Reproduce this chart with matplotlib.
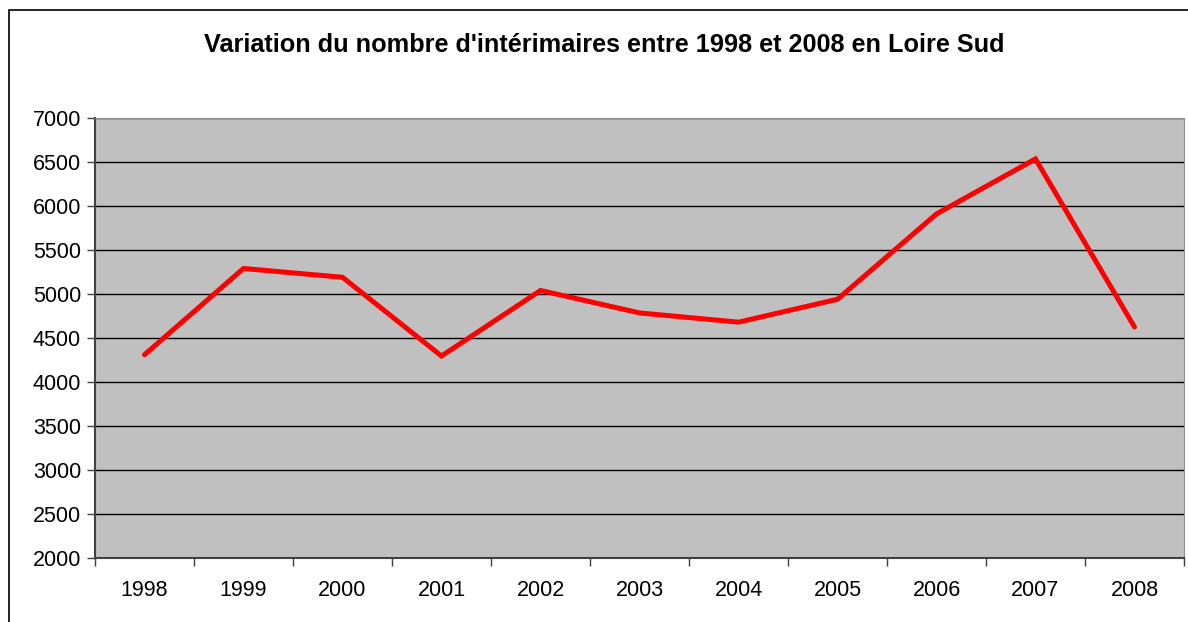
import matplotlib
matplotlib.use("Agg")
import matplotlib.pyplot as plt
from matplotlib.patches import Rectangle

years = ["1998", "1999", "2000", "2001", "2002", "2003", "2004", "2005", "2006", "2007", "2008"]
interimaires = [4310, 5290, 5190, 4295, 5040, 4785, 4680, 4940, 5910, 6535, 4625]

plt.rcParams["font.family"] = ["Liberation Sans", "DejaVu Sans"]

fig = plt.figure(figsize=(11.88, 6.22), dpi=100)
fig.patches.append(Rectangle((9 / 1188, -0.1), 1.2, 1 - 10 / 622 + 0.1,
                             transform=fig.transFigure, fill=False,
                             edgecolor="black", linewidth=1.2))

ax = fig.add_axes([95 / 1188, 1 - 558 / 622, (1184 - 95) / 1188, (558 - 118) / 622])
ax.set_facecolor("#c0c0c0")

x = list(range(len(years)))
ax.plot(x, interimaires, color="#ff0000", linewidth=3.6,
        solid_joinstyle="miter", solid_capstyle="round")

ax.set_xlim(-0.5, len(years) - 0.5)
ax.set_ylim(2000, 7000)
ax.set_yticks(range(2000, 7001, 500))
ax.yaxis.grid(True, color="black", linewidth=1)
ax.set_axisbelow(True)

ax.set_xticks(x)
ax.set_xticklabels(years)
ax.set_xticks([i - 0.5 for i in range(len(years) + 1)], minor=True)
ax.tick_params(axis="x", which="major", length=0, pad=16, labelsize=15.5)
ax.tick_params(axis="x", which="minor", length=6, width=1, color="#404040", direction="out")
ax.tick_params(axis="y", length=6, width=1, color="#404040", labelsize=15.5, pad=4)

for side in ["top", "right"]:
    ax.spines[side].set_color("#909090")
for side in ["left", "bottom"]:
    ax.spines[side].set_color("#404040")
    ax.spines[side].set_linewidth(1.5)

fig.text(604 / 1188, 1 - 45 / 622, "Variation du nombre d'intérimaires entre 1998 et 2008 en Loire Sud",
         ha="center", va="center", fontsize=18.2, fontweight="bold")

fig.savefig("out.png", dpi=100)
